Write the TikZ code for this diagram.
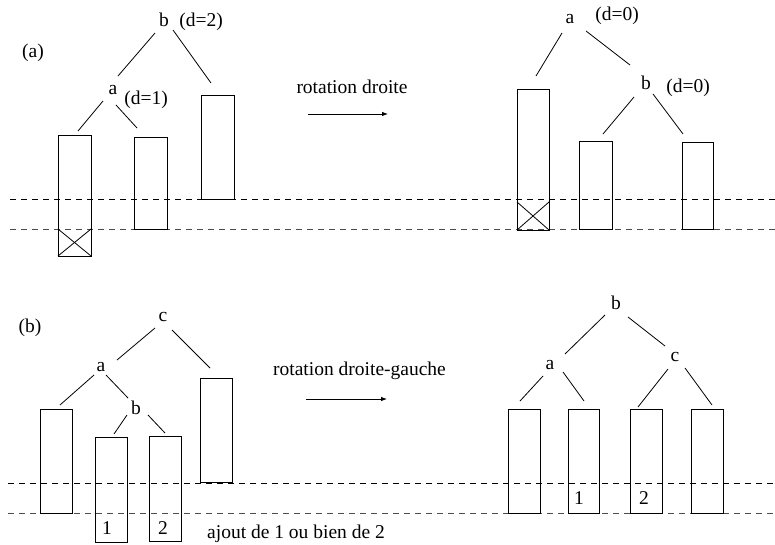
\documentclass[tikz,border=0pt]{standalone}
\usepackage{fontspec}
\setmainfont{Liberation Serif}
\usetikzlibrary{arrows.meta}
\begin{document}
\begin{tikzpicture}[x=1pt,y=-1pt,
  lbl/.style={inner sep=0pt,font=\fontsize{19.5}{23}\selectfont},
  blk/.style={draw,line width=0.8pt},
  edge/.style={line width=0.8pt},
  level/.style={dash pattern=on 6pt off 5pt,line width=0.8pt},
  flow/.style={line width=0.8pt,-{Latex[length=6pt,width=4.5pt]}}]
\useasboundingbox (0,0) rectangle (775,544);

% ---------- (a) simple rotation ----------
\draw[level] (10,199) -- (775,199);
\draw[level,black!70] (10,229) -- (775,229);

\node[lbl] (la) at (33,53) {(a)};
\node[lbl] (ab) at (164,20) {b};
\node[lbl] (abd) at (201,22) {(d=2)};
\node[lbl] (aa) at (113,90) {a};
\node[lbl] (aad) at (146,100) {(d=1)};

\draw[blk] (58,135) rectangle (91,256);
\draw[edge] (58,229) -- (91,256) (58,256) -- (91,229);
\draw[blk] (134,137) rectangle (167,229);
\draw[blk] (201,95) rectangle (234,199);

\draw[edge] (155,33) -- (118,76);
\draw[edge] (173,30) -- (211,83);
\draw[edge] (103,101) -- (78,131);
\draw[edge] (116,105) -- (137,128);

\node[lbl,anchor=base] (rd) at (352,93) {rotation droite};
\coordinate (rd1) at (308,114);
\coordinate (rd2) at (388,114);
\draw[flow] (rd1) -- (rd2);

\node[lbl] (ra) at (570,19) {a};
\node[lbl] (rad) at (617,16) {(d=0)};
\node[lbl] (rb) at (646,83) {b};
\node[lbl] (rbd) at (688,88) {(d=0)};

\draw[blk] (517,89) rectangle (549,230);
\draw[edge] (517,202) -- (549,230) (517,230) -- (549,202);
\draw[blk] (579,141) rectangle (612,229);
\draw[blk] (682,142) rectangle (713,229);

\draw[edge] (562,33) -- (536,76);
\draw[edge] (586,31) -- (630,65);
\draw[edge] (634,97) -- (603,134);
\draw[edge] (653,94) -- (683,134);

% ---------- (b) double rotation ----------
\draw[level] (8,483) -- (775,483);
\draw[level,black!70] (8,513) -- (775,513);

\node[lbl] (lb) at (30,328) {(b)};
\node[lbl] (bc) at (163,317) {c};
\node[lbl] (ba) at (101,367) {a};
\node[lbl] (bb) at (136,408) {b};

\draw[blk] (40,409) rectangle (72,513);
\draw[blk] (95,437) rectangle (127,542);
\draw[blk] (149,436) rectangle (181,541);
\draw[blk] (200,378) rectangle (232,482);
\node[lbl] (b1) at (107,528) {1};
\node[lbl] (b2) at (163,528) {2};

\draw[edge] (155,328) -- (117,360);
\draw[edge] (172,330) -- (210,368);
\draw[edge] (94,375) -- (60,405);
\draw[edge] (106,375) -- (128,398);
\draw[edge] (127,415) -- (114,434);
\draw[edge] (148,415) -- (165,433);

\node[lbl,anchor=base] (aj) at (296,538) {ajout de 1 ou bien de 2};

\node[lbl,anchor=base] (rdg) at (359.5,375) {rotation droite-gauche};
\coordinate (rg1) at (306,399);
\coordinate (rg2) at (387,399);
\draw[flow] (rg1) -- (rg2);

\node[lbl] (sb) at (616,303) {b};
\node[lbl] (sa) at (550,365) {a};
\node[lbl] (sc) at (675,357) {c};

\draw[blk] (508,409) rectangle (540,513);
\draw[blk] (568,409) rectangle (599,513);
\draw[blk] (630,409) rectangle (662,513);
\draw[blk] (691,409) rectangle (723,513);
\node[lbl] (s1) at (579,498) {1};
\node[lbl] (s2) at (644,498) {2};

\draw[edge] (605,315) -- (565,354);
\draw[edge] (628,317) -- (665,346);
\draw[edge] (543,376) -- (520,401);
\draw[edge] (563,372) -- (584,401);
\draw[edge] (668,369) -- (638,407);
\draw[edge] (685,368) -- (712,405);
\end{tikzpicture}
\end{document}
